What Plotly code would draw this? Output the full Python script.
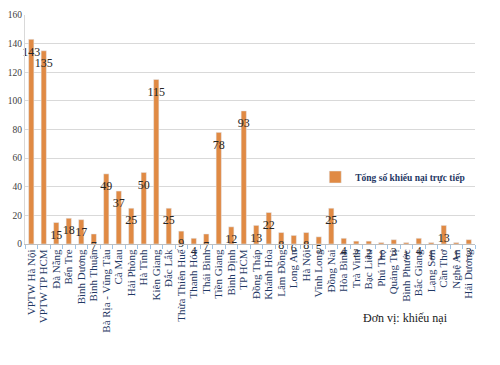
import plotly.graph_objects as go

categories = ["VPTW Hà Nội", "VPTW TP HCM", "Đà Nẵng", "Bến Tre", "Bình Dương", "Bình Thuận",
              "Bà Rịa - Vũng Tàu", "Cà Mau", "Hải Phòng", "Hà Tĩnh", "Kiên Giang", "Đắc Lắk",
              "Thừa Thiên Huế", "Thanh Hóa", "Thái Bình", "Tiền Giang", "Bình Định", "TP HCM",
              "Đồng Tháp", "Khánh Hòa", "Lâm Đồng", "Long An", "Hà Nội", "Vĩnh Long",
              "Đồng Nai", "Hòa Bình", "Trà Vinh", "Bạc Liêu", "Phú Thọ", "Quảng Trị",
              "Bình Phước", "Bắc Giang", "Lạng Sơn", "Cần Thơ", "Nghệ An", "Hải Dương"]
values = [143, 135, 15, 18, 17, 7, 49, 37, 25, 50, 115, 25, 9, 4, 7, 78, 12, 93, 13, 22,
          8, 6, 8, 5, 25, 4, 2, 2, 1, 3, 1, 4, 1, 13, 1, 3]
series_name = "Tổng số khiếu nại trực tiếp"
y_ticks = [0, 20, 40, 60, 80, 100, 120, 140, 160]

SERIF = "Liberation Serif, Times New Roman, serif"
BAR = "#E08A44"
NAVY = "#1F3864"

# page body has an 8px margin; figure is sized/offset to compensate
OFF = 8
W, H = 492, 357
L, R, T, B = 17, 25, 7, 121
PW, PH = W - L - R, H - T - B

fig = go.Figure()
fig.add_trace(go.Bar(x=categories, y=values, name=series_name, marker_color=BAR,
                     width=0.42))
fig.add_trace(go.Scatter(x=categories, y=values, mode="markers+text",
                         text=[str(v) for v in values],
                         marker=dict(size=10, opacity=0),
                         textposition="bottom center", showlegend=False, cliponaxis=False,
                         hoverinfo="skip",
                         textfont=dict(family=SERIF, size=12, color="#262626")))

fig.update_layout(
    width=W, height=H,
    margin=dict(l=L, r=R, t=T, b=B, autoexpand=False),
    paper_bgcolor="white", plot_bgcolor="white",
    showlegend=True,
    legend=dict(x=0.645, y=(H - B - (177 - OFF)) / PH, xanchor="left", yanchor="middle",
                font=dict(family=SERIF, size=9.5, color=NAVY, weight="bold"),
                bgcolor="rgba(255,255,255,0)", itemwidth=30),
    bargap=0.5,
)
fig.add_annotation(text="Đơn vị: khiếu nại", x=(405 - OFF - L) / PW,
                   y=(H - B - (318 - OFF)) / PH,
                   xref="paper", yref="paper", xanchor="center", yanchor="middle",
                   showarrow=False, font=dict(family=SERIF, size=12, color="#222222"))
fig.update_xaxes(tickangle=-90, tickfont=dict(family=SERIF, size=11, color=NAVY),
                 tickmode="linear", dtick=1, automargin=False,
                 range=[-0.5, len(categories) - 0.5],
                 showline=True, linecolor="#BFBFBF", ticks="outside", tickson="boundaries",
                 ticklen=4, tickcolor="#9DC3E6", showgrid=False)
fig.update_yaxes(range=[0, 160], tickvals=y_ticks, showgrid=True, gridcolor="#D9D9D9",
                 tickfont=dict(family=SERIF, size=9.5, color="#404040"), zeroline=False,
                 automargin=False, ticks="",
                 showline=True, linecolor="#D9D9D9")

fig.write_html("out.html")
